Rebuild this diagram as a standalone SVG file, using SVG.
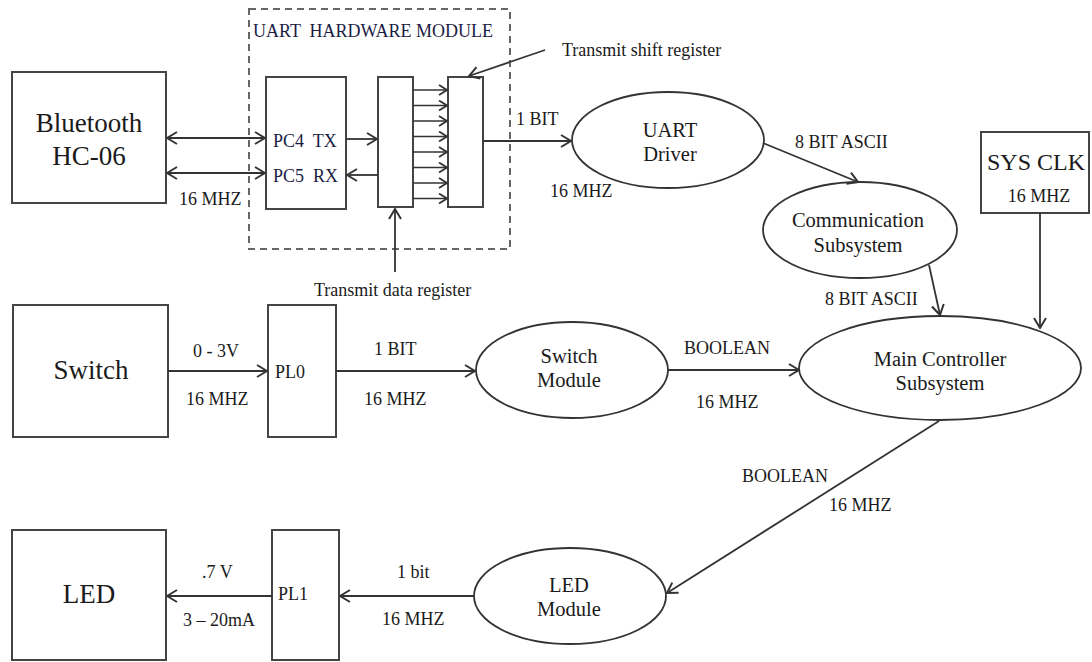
<svg xmlns="http://www.w3.org/2000/svg" width="1092" height="662" viewBox="0 0 1092 662">
<style>
.box{fill:#fff;stroke:#444;stroke-width:2}
.ell{fill:#fff;stroke:#333;stroke-width:1.8}
.dash{fill:none;stroke:#666;stroke-width:2;stroke-dasharray:7 5}
.ln{fill:none;stroke:#333;stroke-width:1.8;marker-end:url(#ah)}
.dbl{marker-start:url(#ah)}
.sm{fill:none;stroke:#333;stroke-width:1.6;marker-end:url(#ahs)}
text{font-family:"Liberation Serif","Times New Roman",serif;fill:#1a1a1a}
.big{font-size:27px;text-anchor:middle}
.mid{font-size:20.5px;text-anchor:middle}
.lab{font-size:18px}
.c{text-anchor:middle}
.hw{fill:#1c1c44}
</style>
<defs>
<marker id="ah" viewBox="0 0 12 14" refX="11" refY="7" markerWidth="12" markerHeight="14" markerUnits="userSpaceOnUse" orient="auto-start-reverse">
<path d="M1,1 L11,7 L1,13" fill="none" stroke="#333" stroke-width="2"/>
</marker>
<marker id="ahs" viewBox="0 0 10 12" refX="9" refY="6" markerWidth="10" markerHeight="12" markerUnits="userSpaceOnUse" orient="auto">
<path d="M1,1 L9,6 L1,11" fill="none" stroke="#333" stroke-width="1.8"/>
</marker>
</defs>

<g id="uart-hw-module">
<rect class="dash" x="249" y="9" width="261" height="240"/>
<text class="lab hw" x="253" y="37" xml:space="preserve">UART  HARDWARE MODULE</text>
</g>

<g id="bluetooth">
<rect class="box" x="12" y="72" width="154" height="131"/>
<text class="big" x="89" y="132">Bluetooth</text>
<text class="big" x="89" y="165">HC-06</text>
</g>

<g id="pc-pins">
<rect class="box" x="266" y="77" width="80" height="132"/>
<text class="lab hw" x="273" y="147" xml:space="preserve">PC4  TX</text>
<text class="lab hw" x="273" y="182" xml:space="preserve">PC5  RX</text>
</g>

<g id="data-register">
<rect class="box" x="378" y="77" width="35" height="130"/>
</g>

<g id="shift-register">
<rect class="box" x="448" y="77" width="35" height="130"/>
</g>

<g id="uart-driver">
<ellipse class="ell" cx="668" cy="140" rx="96" ry="48"/>
<text class="mid" x="670" y="137">UART</text>
<text class="mid" x="670" y="161">Driver</text>
</g>

<g id="communication">
<ellipse class="ell" cx="860" cy="230" rx="97" ry="48"/>
<text class="mid" x="858" y="227">Communication</text>
<text class="mid" x="858" y="252">Subsystem</text>
</g>

<g id="sysclk">
<rect class="box" x="981" y="132" width="108" height="81"/>
<text x="1036" y="170" class="c" style="font-size:24px">SYS CLK</text>
<text class="lab c" x="1039" y="202">16 MHZ</text>
</g>

<g id="main-controller">
<ellipse class="ell" cx="940" cy="368" rx="141" ry="52"/>
<text class="mid" x="940" y="366">Main Controller</text>
<text class="mid" x="940" y="390">Subsystem</text>
</g>

<g id="switch">
<rect class="box" x="13" y="305" width="155" height="132"/>
<text class="big" x="91" y="379">Switch</text>
</g>

<g id="pl0">
<rect class="box" x="268" y="305" width="68" height="132"/>
<text class="lab" x="275" y="378">PL0</text>
</g>

<g id="switch-module">
<ellipse class="ell" cx="572" cy="370" rx="96" ry="48"/>
<text class="mid" x="569" y="363">Switch</text>
<text class="mid" x="569" y="387">Module</text>
</g>

<g id="led">
<rect class="box" x="12" y="530" width="154" height="130"/>
<text class="big" x="89" y="603">LED</text>
</g>

<g id="pl1">
<rect class="box" x="272" y="530" width="67" height="130"/>
<text class="lab" x="278" y="600">PL1</text>
</g>

<g id="led-module">
<ellipse class="ell" cx="570" cy="596" rx="96" ry="48"/>
<text class="mid" x="569" y="592">LED</text>
<text class="mid" x="569" y="616">Module</text>
</g>

<g id="connectors">
<line class="ln dbl" x1="167" y1="138" x2="265" y2="138"/>
<line class="ln dbl" x1="167" y1="173" x2="265" y2="173"/>
<line class="ln" x1="346" y1="139" x2="377" y2="139"/>
<line class="ln" x1="378" y1="175" x2="347" y2="175"/>
<line class="sm" x1="413" y1="90" x2="447" y2="90"/>
<line class="sm" x1="413" y1="105.5" x2="447" y2="105.5"/>
<line class="sm" x1="413" y1="121" x2="447" y2="121"/>
<line class="sm" x1="413" y1="136.5" x2="447" y2="136.5"/>
<line class="sm" x1="413" y1="152" x2="447" y2="152"/>
<line class="sm" x1="413" y1="167.5" x2="447" y2="167.5"/>
<line class="sm" x1="413" y1="183" x2="447" y2="183"/>
<line class="sm" x1="413" y1="198.5" x2="447" y2="198.5"/>
<line class="ln" x1="395" y1="272" x2="395" y2="209"/>
<line class="ln" x1="545" y1="50" x2="469" y2="76"/>
<line class="ln" x1="483" y1="141" x2="571" y2="141"/>
<line class="ln" x1="763" y1="143" x2="858" y2="182"/>
<line class="ln" x1="929" y1="265" x2="940" y2="315"/>
<line class="ln" x1="1040" y1="213" x2="1040" y2="328"/>
<line class="ln" x1="168" y1="371" x2="267" y2="371"/>
<line class="ln" x1="336" y1="371" x2="475" y2="371"/>
<line class="ln" x1="668" y1="370" x2="799" y2="370"/>
<line class="ln" x1="939" y1="421" x2="667" y2="593"/>
<line class="ln" x1="474" y1="596" x2="340" y2="596"/>
<line class="ln" x1="272" y1="596" x2="167" y2="596"/>
</g>

<g id="labels">
<text class="lab" x="179" y="205">16 MHZ</text>
<text class="lab" x="314" y="296">Transmit data register</text>
<text class="lab" x="562" y="56">Transmit shift register</text>
<text class="lab" x="516" y="125">1 BIT</text>
<text class="lab" x="550" y="197">16 MHZ</text>
<text class="lab" x="795" y="148">8 BIT ASCII</text>
<text class="lab" x="825" y="305">8 BIT ASCII</text>
<text class="lab" x="193" y="357">0 - 3V</text>
<text class="lab" x="186" y="405">16 MHZ</text>
<text class="lab" x="374" y="355">1 BIT</text>
<text class="lab" x="364" y="405">16 MHZ</text>
<text class="lab" x="684" y="354">BOOLEAN</text>
<text class="lab" x="696" y="408">16 MHZ</text>
<text class="lab" x="742" y="482">BOOLEAN</text>
<text class="lab" x="829" y="511">16 MHZ</text>
<text class="lab" x="202" y="578">.7 V</text>
<text class="lab" x="183" y="626">3 – 20mA</text>
<text class="lab" x="397" y="578">1 bit</text>
<text class="lab" x="382" y="625">16 MHZ</text>
</g>
</svg>
